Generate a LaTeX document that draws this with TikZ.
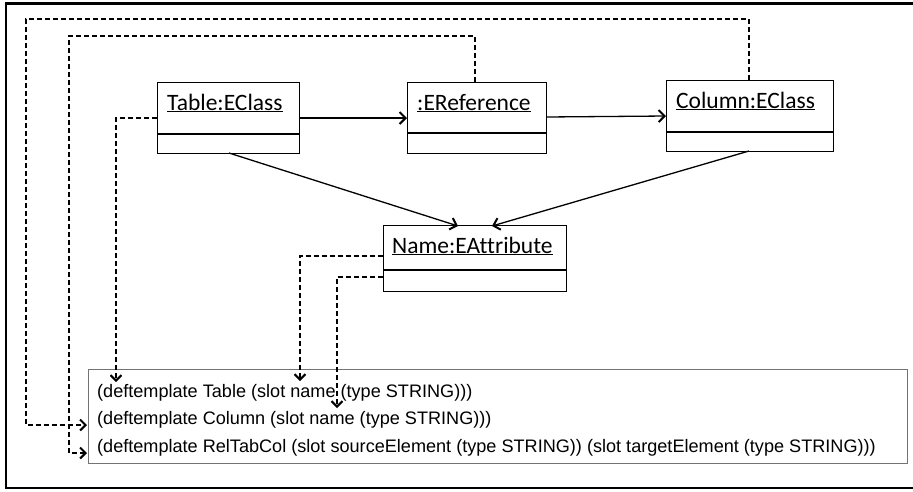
\documentclass[tikz,border=0pt]{standalone}
\usepackage{fontspec}
\setmainfont{Liberation Sans}
\newfontfamily\umlfont[Ligatures={NoCommon}]{Carlito}
\usetikzlibrary{arrows.meta}
\tikzset{
  x=1pt, y=-1pt,
  umlbox/.style={draw=black, line width=1.2pt, fill=white, rectangle, inner sep=0pt, anchor=north west},
  umltext/.style={font=\umlfont\fontsize{23.5}{26}\selectfont, inner sep=0pt, anchor=base west},
  codetext/.style={font=\fontsize{18.1}{21}\selectfont, inner sep=0pt, anchor=base west},
  assoc/.style={line width=1.3pt, -{Straight Barb[length=6pt,width=12pt,line width=2pt]}},
  trace/.style={line width=1.2pt, dash pattern=on 5pt off 3pt, -{Straight Barb[length=5.5pt,width=11pt,line width=2pt]}},
}
\begin{document}
\begin{tikzpicture}
\useasboundingbox (0,0) rectangle (913,491);
\draw[line width=2.6pt] (6,3.5) rectangle (930,488);

% UML boxes
\node[umlbox, minimum width=142pt, minimum height=71pt] (table) at (157,82) {};
\draw[line width=1.2pt] (157,134) -- (299,134);
\node[umltext] (tablet) at (167,110) {\underline{Table:EClass}};

\node[umlbox, minimum width=139pt, minimum height=71pt] (eref) at (407,82) {};
\draw[line width=1.2pt] (407,133) -- (546,133);
\node[umltext] (ereft) at (417,110) {\underline{:EReference}};

\node[umlbox, minimum width=167pt, minimum height=71pt] (col) at (666,80) {};
\draw[line width=1.2pt] (666,132) -- (833,132);
\node[umltext] (colt) at (676,108) {\underline{Column:EClass}};

\node[umlbox, minimum width=183pt, minimum height=66pt] (name) at (383,225) {};
\draw[line width=1.2pt] (383,270) -- (566,270);
\node[umltext] (namet) at (392,253) {\underline{Name:EAttribute}};

% code box
\node[draw=black!55, line width=0.9pt, rectangle, inner sep=0pt, anchor=north west,
      minimum width=819pt, minimum height=94pt] (code) at (88,369) {};
\node[codetext] (l1) at (97,397) {(deftemplate Table (slot name (type STRING)))};
\node[codetext] (l2) at (97,424.5) {(deftemplate Column (slot name (type STRING)))};
\node[codetext] (l3) at (97,452) {(deftemplate RelTabCol (slot sourceElement (type STRING)) (slot targetElement (type STRING)))};

% solid associations
\draw[assoc] (299,118) -- (407,118);
\draw[assoc] (546,117) -- (666,116);
\draw[assoc] (229,153) -- (458,226);
\draw[assoc] (749,151) -- (492,226);

% dashed traces
\coordinate (t1) at (87,425);
\coordinate (t2) at (87,453);
\coordinate (t3) at (116,382);
\coordinate (t4) at (300,381);
\coordinate (t5) at (337,408);
\draw[trace] (749,80) -- (749,19) -- (26,19) -- (26,425) -- (t1);
\draw[trace] (475,82) -- (475,36) -- (69,36) -- (69,453) -- (t2);
\draw[trace] (157,118) -- (116,118) -- (t3);
\draw[trace] (383,256) -- (300,256) -- (t4);
\draw[trace] (383,277) -- (337,277) -- (t5);
\end{tikzpicture}
\end{document}
